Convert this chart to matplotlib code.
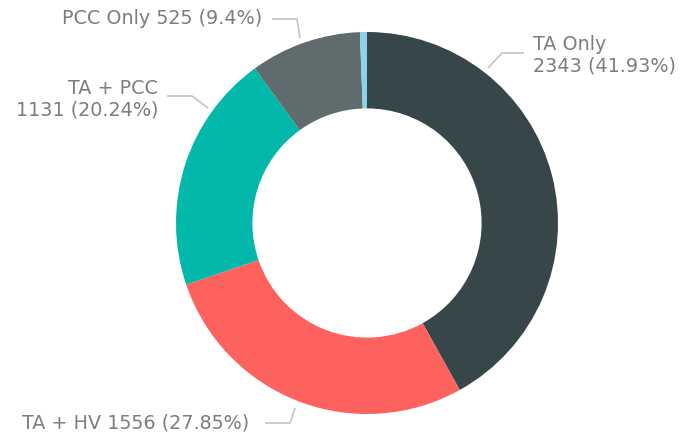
import matplotlib
matplotlib.use("Agg")
import matplotlib.pyplot as plt

# ---- data ----
categories = ["TA Only", "TA + HV", "TA + PCC", "PCC Only", "Other"]
values = [2343, 1556, 1131, 525, 33]
colors = ["#374649", "#FD625E", "#01B8AA", "#5F6B6D", "#8AD4EB"]

W, H = 681, 437
fig = plt.figure(figsize=(W / 100, H / 100), dpi=100)
ax = fig.add_axes([0, 0, 1, 1])

R = 191
cx, cy = 367, H - 223
ax.pie(values, colors=colors, startangle=90, counterclock=False,
       radius=R, center=(cx, cy),
       wedgeprops=dict(width=R * 0.40, linewidth=0))
ax.set_xlim(0, W)
ax.set_ylim(0, H)
ax.set_aspect("equal")
ax.axis("off")

total = sum(values)


def pct(v):
    s = f"{100 * v / total:.2f}".rstrip("0").rstrip(".")
    return s


def label(i, twoline):
    sep = "\n" if twoline else " "
    return f"{categories[i]}{sep}{values[i]} ({pct(values[i])}%)"


txt_color = "#7d7d7d"
line_color = "#c4c4c4"
font = dict(family=["DejaVu Sans"], fontsize=13.8, color=txt_color)

# (index, two-line?, text x, text y, ha, leader points in pixel coords)
layout = [
    (0, True, 533, 55, "left", [(524, 53), (502, 53), (488, 68)]),
    (1, False, 22, 423, "left", [(265, 423), (290, 423), (295, 408)]),
    (2, True, 158, 99, "right", [(167, 96), (192, 96), (208, 108)]),
    (3, False, 262, 18, "right", [(272, 19), (297, 19), (300, 38)]),
]

for i, two, tx, ty, ha, pts in layout:
    ax.text(tx, H - ty, label(i, two), ha=ha, va="center",
            multialignment=ha, linespacing=1.2, **font)
    xs = [p[0] for p in pts]
    ys = [H - p[1] for p in pts]
    ax.plot(xs, ys, color=line_color, lw=1.2, solid_capstyle="butt")

fig.savefig("out.png", dpi=100)
